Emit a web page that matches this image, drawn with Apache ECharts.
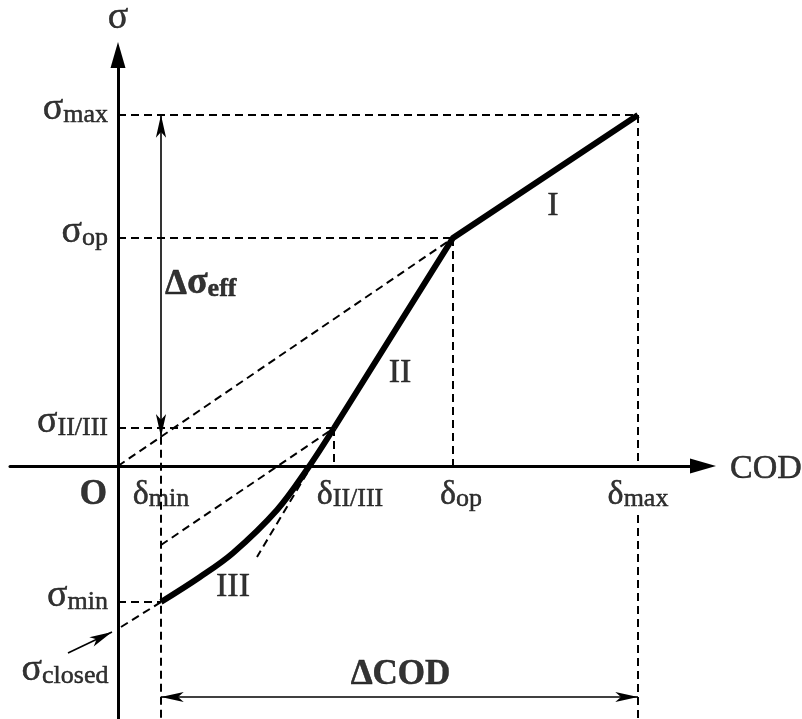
<!DOCTYPE html>
<html>
<head>
<meta charset="utf-8">
<script src="https://cdn.jsdelivr.net/npm/echarts@6/dist/echarts.min.js"></script>
<style>
html,body{margin:0;padding:0;background:#fff}
#main{width:802px;height:719px}
</style>
</head>
<body>
<div id="main"></div>
<script>
// values, origin O at (0,0), COD to the right, sigma up
const sigmaNames = ['max', 'op', 'II/III', 'min'];
const sigmaValues = [351, 228, 38, -136];
const deltaNames = ['max', 'op', 'II/III', 'min'];
const deltaValues = [520, 335, 216, 43];
const sigmaClosed = -161;

// the thick curve: stage III bends, II and I are straight
const stage3 = [[43, -136], [82, -111], [115, -87], [159, -44], [190, -2], [216, 38]];
const stage21 = [[216, 38], [335, 228], [520, 351]];
// dashed construction lines
const stage2Ext = [[216, 38], [139, -91]];
const parallelII = [[43, -79], [216, 38]];
const closedTangent = [[3, sigmaClosed], [43, -136]];

const stageNames = ['I', 'II', 'III'];
const stageAt = [[435, 261], [282, 94], [115, -120]];

const xRange = [-108, 585];
const yRange = [-253, 411];
const codArrowY = -231;
const deltaLabelGap = -49;
const closedPointer = [[-50, -187], [-6, -166]];

const serif = 'Liberation Serif';
const chart = echarts.init(document.getElementById('main'));

const dMax = deltaValues[0], dOp = deltaValues[1], dII = deltaValues[2], dMin = deltaValues[3];
const sMax = sigmaValues[0], sOp = sigmaValues[1];
const secantAtMin = dMin * sOp / dOp;

// dashed guides
const guides = [];
sigmaValues.forEach((s, i) => guides.push({coords: [[0, s], [deltaValues[i], s]]}));
guides.push({coords: [[dMax, sMax], [dMax, 0]]});
guides.push({coords: [[dMax, deltaLabelGap], [dMax, yRange[0]]]});
guides.push({coords: [[dOp, sOp], [dOp, 0]]});
guides.push({coords: [[dII, sigmaValues[2]], [dII, 0]]});
guides.push({coords: [[dMin, secantAtMin], [dMin, yRange[0]]]});
guides.push({coords: [[0, 0], [dOp, sOp]]});
guides.push({coords: stage2Ext});
guides.push({coords: parallelII});
guides.push({coords: closedTangent});

// narrow arrow head, tip in the middle of its box
const arrowHead = 'path://M0,0 L-4.5,20 L0,15 L4.5,20 Z M-22,-22 L-22,-22 M22,22 L22,22';

const ink = {color: '#000', textBorderColor: '#000', textBorderWidth: 0.5};
const rich = {
  g: Object.assign({fontFamily: serif, fontSize: 38, lineHeight: 36, verticalAlign: 'bottom'}, ink),
  s: Object.assign({fontFamily: serif, fontSize: 34, lineHeight: 36, verticalAlign: 'bottom'}, ink),
  u: Object.assign({fontFamily: serif, fontSize: 26, lineHeight: 18, verticalAlign: 'bottom'}, ink),
  bs: Object.assign({fontFamily: serif, fontSize: 35, fontWeight: 'bold', lineHeight: 36, verticalAlign: 'bottom'}, ink),
  bg: Object.assign({fontFamily: serif, fontSize: 38, fontWeight: 'bold', lineHeight: 36, verticalAlign: 'bottom'}, ink),
  bu: Object.assign({fontFamily: serif, fontSize: 26, fontWeight: 'bold', lineHeight: 18, verticalAlign: 'bottom'}, ink)
};

const labels = [];
sigmaValues.forEach((s, i) => labels.push({
  value: [0, s],
  label: {formatter: '{g|σ}{u|' + sigmaNames[i] + '}', position: 'left', distance: 10, offset: [0, -5]}
}));
deltaValues.forEach((d, i) => labels.push({
  value: [d, 0],
  label: {formatter: '{s|δ}{u|' + deltaNames[i] + '}', position: 'bottom', distance: 10,
    offset: [deltaNames[i] === 'II/III' ? 16 : (deltaNames[i] === 'op' ? 8 : 0), 0]}
}));
stageNames.forEach((n, i) => labels.push({
  value: stageAt[i],
  label: {formatter: '{s|' + n + '}', position: 'inside'}
}));
labels.push({value: [0, yRange[1]], label: {formatter: '{g|σ}', position: 'top', distance: 18}});
labels.push({value: [xRange[1], 0], label: {formatter: '{s|COD}', position: 'right', distance: 27, offset: [0, 2]}});
labels.push({value: [0, 0], label: {formatter: '{bs|O}', position: 'left', distance: 11, offset: [0, 28]}});
labels.push({value: closedPointer[0], label: {formatter: '{g|σ}{u|closed}', position: 'bottom', distance: 0, offset: [-3, 0]}});
labels.push({value: [dMin, 182], label: {formatter: '{bs|Δ}{bg|σ}{bu|eff}', position: 'right', distance: 4}});
labels.push({value: [(dMin + dMax) / 2 + 1, codArrowY + 23], label: {formatter: '{bs|ΔCOD}', position: 'inside'}});

chart.setOption({
  animation: false,
  backgroundColor: '#fff',
  textStyle: {color: '#000'},
  grid: {left: 10, right: 99, top: 55, bottom: 0},
  xAxis: {
    type: 'value', min: xRange[0], max: xRange[1],
    axisLine: {onZero: true, symbol: ['none', 'triangle'], symbolSize: [15, 26], lineStyle: {color: '#000', width: 3}},
    axisTick: {show: false}, axisLabel: {show: false}, splitLine: {show: false}
  },
  yAxis: {
    type: 'value', min: yRange[0], max: yRange[1],
    axisLine: {onZero: true, symbol: ['none', 'triangle'], symbolSize: [15, 26], lineStyle: {color: '#000', width: 3}},
    axisTick: {show: false}, axisLabel: {show: false}, splitLine: {show: false}
  },
  series: [
    {
      type: 'lines', coordinateSystem: 'cartesian2d', silent: true, z: 2,
      lineStyle: {color: '#000', width: 2, type: [8, 5], opacity: 1},
      data: guides
    },
    {
      type: 'lines', coordinateSystem: 'cartesian2d', silent: true, z: 3,
      symbol: [arrowHead, arrowHead], symbolSize: 50,
      lineStyle: {color: '#000', width: 1.6, opacity: 1},
      data: [
        {coords: [[dMin, sMax], [dMin, secantAtMin]]},
        {coords: [[dMin, codArrowY], [dMax, codArrowY]]}
      ]
    },
    {
      type: 'lines', coordinateSystem: 'cartesian2d', silent: true, z: 3,
      symbol: ['none', arrowHead], symbolSize: 50,
      lineStyle: {color: '#000', width: 1.6, opacity: 1},
      data: [{coords: closedPointer}]
    },
    {
      type: 'line', data: stage3, smooth: 0.35, showSymbol: false, z: 4,
      lineStyle: {color: '#000', width: 6}
    },
    {
      type: 'line', data: stage21, showSymbol: false, z: 4,
      lineStyle: {color: '#000', width: 6, join: 'miter'}
    },
    {
      type: 'scatter', symbolSize: 0, z: 5, clip: false, silent: true,
      label: Object.assign({show: true, fontFamily: serif, rich: rich}, ink),
      data: labels
    }
  ]
});
</script>
</body>
</html>
